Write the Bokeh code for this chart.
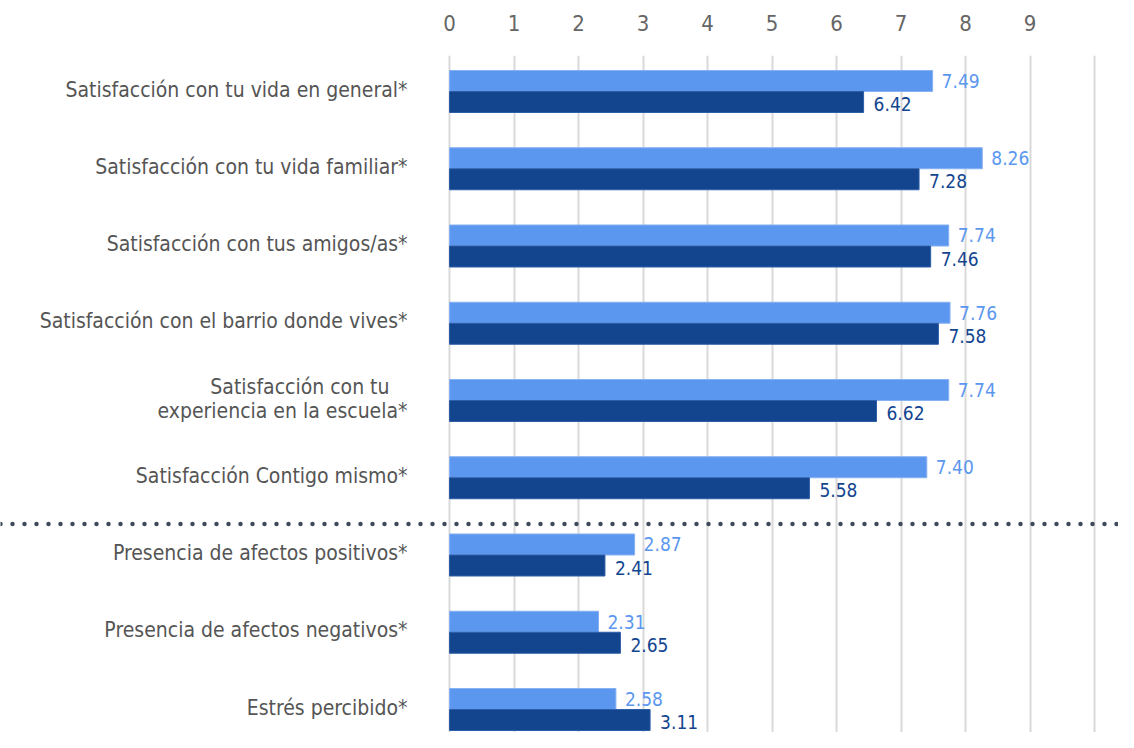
from bokeh.plotting import figure
from bokeh.models import ColumnDataSource, FixedTicker, Range1d, Span
from bokeh.transform import dodge
from bokeh.core.properties import value
from bokeh.embed import file_html
from bokeh.resources import INLINE

# ---------------- data ----------------
categories = [
    "Satisfacción con tu vida en general*",
    "Satisfacción con tu vida familiar*",
    "Satisfacción con tus amigos/as*",
    "Satisfacción con el barrio donde vives*",
    "Satisfacción con tu   \nexperiencia en la escuela*",
    "Satisfacción Contigo mismo*",
    "Presencia de afectos positivos*",
    "Presencia de afectos negativos*",
    "Estrés percibido*",
]
serie_clara = [7.49, 8.26, 7.74, 7.76, 7.74, 7.40, 2.87, 2.31, 2.58]
serie_oscura = [6.42, 7.28, 7.46, 7.58, 6.62, 5.58, 2.41, 2.65, 3.11]
x_tick_values = [0, 1, 2, 3, 4, 5, 6, 7, 8, 9]
grid_values = [0, 1, 2, 3, 4, 5, 6, 7, 8, 9, 10]
n_satisfaccion = 6

# ---------------- style ----------------
FONT = "'Liberation Sans Narrow', 'DejaVu Sans Condensed', sans-serif"
LIGHT = "#5b97ef"
DARK = "#13458f"
PX_PER_UNIT = 64.5
ROW_PX = 77.25
W, H = 1118, 732
FRAME_TOP = 55
ZERO_PX = 449
FIRST_ROW_PX = 91
BAR_H = 0.272
OFF = BAR_H / 2

rows = list(range(len(categories)))
src = ColumnDataSource(dict(
    y=rows,
    cat=categories,
    a=serie_clara,
    b=serie_oscura,
    a_txt=[f"{v:.2f}" for v in serie_clara],
    b_txt=[f"{v:.2f}" for v in serie_oscura],
))

x_range = Range1d(-ZERO_PX / PX_PER_UNIT, (W - ZERO_PX) / PX_PER_UNIT)
y_top = -(FIRST_ROW_PX - FRAME_TOP) / ROW_PX
y_bottom = (H - FIRST_ROW_PX) / ROW_PX
y_range = Range1d(y_bottom, y_top)

p = figure(width=W, height=H, output_backend="svg", toolbar_location=None,
           x_range=x_range, y_range=y_range,
           x_axis_location="above", y_axis_location=None,
           min_border_left=0, min_border_right=0, min_border_bottom=0,
           min_border_top=FRAME_TOP)
p.outline_line_color = None
p.background_fill_color = "white"
p.border_fill_color = "white"

ax = p.xaxis[0]
ax.ticker = FixedTicker(ticks=x_tick_values)
ax.axis_line_color = None
ax.major_tick_line_color = None
ax.minor_tick_line_color = None
ax.major_label_text_font = FONT
ax.major_label_text_font_size = "22px"
ax.major_label_text_color = "#666666"
ax.major_label_standoff = 19

p.xgrid.ticker = FixedTicker(ticks=grid_values)
p.xgrid.grid_line_color = "#d9d9d9"
p.xgrid.grid_line_width = 2
p.ygrid.visible = False

p.hbar(y=dodge("y", -OFF, range=p.y_range), left=0, right="a", height=BAR_H,
       source=src, fill_color=LIGHT, line_color="#86b1f3", line_width=1)
p.hbar(y=dodge("y", OFF, range=p.y_range), left=0, right="b", height=BAR_H,
       source=src, fill_color=DARK, line_color="#2e5ea6", line_width=1)

p.text(x="a", y=dodge("y", -OFF, range=p.y_range), text="a_txt", source=src,
       x_offset=9, text_align="left", text_baseline="middle",
       text_font=value(FONT), text_font_size="19px", text_color=LIGHT)
p.text(x="b", y=dodge("y", OFF, range=p.y_range), text="b_txt", source=src,
       x_offset=10, y_offset=2, text_align="left", text_baseline="middle",
       text_font=value(FONT), text_font_size="19px", text_color=DARK)

p.text(x=0, y="y", text="cat", source=src, x_offset=-42, y_offset=-2,
       text_align="right", text_baseline="middle",
       text_font=value(FONT), text_font_size="21px", text_color="#555555",
       text_line_height=1.0)

p.add_layout(Span(location=n_satisfaccion - 0.4, dimension="width",
                  line_color="#3f4b5b", line_width=4.5, line_dash="0 12",
                  line_cap="round"))

open("out.html", "w").write(file_html(p, INLINE))
